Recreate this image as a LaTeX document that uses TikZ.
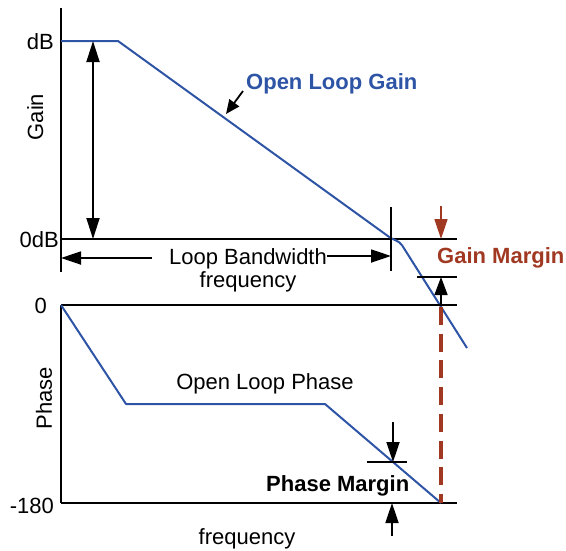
\documentclass[tikz,border=0pt]{standalone}
\usepackage{fontspec}
\setmainfont{Liberation Sans}
\usetikzlibrary{arrows.meta}
\definecolor{curveblue}{RGB}{46,84,166}
\definecolor{marginred}{RGB}{160,56,34}
\begin{document}
\begin{tikzpicture}[x=1pt,y=-1pt,
  axisline/.style={line width=2.4pt},
  refline/.style={line width=2.2pt},
  tickline/.style={line width=1.6pt},
  plotline/.style={curveblue,line width=2pt,line join=round},
  dimarrow/.style={line width=1.8pt,-{Triangle[length=20pt,width=13pt]}},
  twoarrow/.style={line width=1.8pt,{Triangle[length=21pt,width=13pt]}-{Triangle[length=21pt,width=13pt]}},
  lbl/.style={font=\fontsize{22}{26}\selectfont,inner sep=0pt,anchor=base},
  boldlbl/.style={lbl,font=\fontsize{22}{26}\selectfont\bfseries}]
\useasboundingbox (0,0) rectangle (566,550);

% ---------- gain plot ----------
\coordinate (gtop) at (61,8);
\coordinate (gbot) at (61,272);
\coordinate (gdb) at (61,41);
\coordinate (gzero) at (61,239);
\coordinate (gzeroend) at (457,239);
\coordinate (gpole) at (118,41);
\coordinate (gcross) at (392,239);
\coordinate (gknee) at (400,242);
\coordinate (gend) at (467,348);

\draw[axisline] (gtop) -- (gbot);
\draw[refline] (gzero) -- (gzeroend);
\draw[plotline] (gdb) -- (gpole) [rounded corners=4pt] -- (gcross) -- (gknee) -- (gend);

% dc gain span
\coordinate (spantop) at (93,41);
\coordinate (spanbot) at (93,239);
\draw[twoarrow] (spantop) -- (spanbot);

% curve label and pointer
\node[boldlbl,text=curveblue,anchor=base west] (olg) at (246,89) {Open Loop Gain};
\coordinate (olgfrom) at (243,91);
\coordinate (olgto) at (226,114);
\draw[line width=1.8pt,-{Triangle[length=14pt,width=12pt]}] (olgfrom) -- (olgto);

% loop bandwidth
\coordinate (bwtickt) at (391,207);
\coordinate (bwtickb) at (391,271);
\draw[tickline] (bwtickt) -- (bwtickb);
\node[lbl] (bw) at (248,264) {Loop Bandwidth};
\node[lbl] (bwf) at (248,287) {frequency};
\coordinate (bwleft) at (61,258);
\coordinate (bwlstart) at (152,258);
\coordinate (bwrstart) at (327,256);
\coordinate (bwright) at (391,256);
\draw[dimarrow] (bwlstart) -- (bwleft);
\draw[dimarrow] (bwrstart) -- (bwright);

% gain margin
\coordinate (gmtop) at (441,206);
\coordinate (gmtip) at (441,239);
\draw[marginred,line width=1.6pt,-{Triangle[length=20pt,width=13pt]}] (gmtop) -- (gmtip);
\node[boldlbl,text=marginred,anchor=base west] (gm) at (437,263) {Gain Margin};
\coordinate (gmtickl) at (417,277);
\coordinate (gmtickr) at (457,277);
\draw[tickline] (gmtickl) -- (gmtickr);
\coordinate (gmbase) at (441,305);
\coordinate (gmup) at (441,277);
\draw[line width=1.6pt,-{Triangle[length=18pt,width=13pt]}] (gmbase) -- (gmup);

% gain axis labels
\node[lbl,anchor=base east] (ldb) at (54,49) {dB};
\node[lbl,anchor=base east] (l0db) at (59,247) {0dB};
\node[lbl,rotate=90] (lgain) at (43,117) {Gain};

% ---------- phase plot ----------
\coordinate (ptop) at (61,305);
\coordinate (pbot) at (61,503);
\coordinate (ptopend) at (457,305);
\coordinate (pbotend) at (457,503);
\draw[refline] (ptop) -- (ptopend);
\draw[axisline] (ptop) -- (pbot);
\draw[refline] (pbot) -- (pbotend);

\coordinate (pp1) at (126,404);
\coordinate (pp2) at (325,404);
\coordinate (pp3) at (441,503);
\draw[plotline] (ptop) -- (pp1) -- (pp2) -- (pp3);

\node[lbl] (olp) at (265,389) {Open Loop Phase};

% crossover marker
\coordinate (xtop) at (441,307);
\draw[marginred,line width=3.2pt,dash pattern=on 18pt off 8.7pt] (xtop) -- (pp3);

% phase margin
\coordinate (pmtop) at (393,422);
\coordinate (pmtip) at (393,462);
\draw[dimarrow] (pmtop) -- (pmtip);
\coordinate (pmtickl) at (367,462);
\coordinate (pmtickr) at (407,462);
\draw[tickline] (pmtickl) -- (pmtickr);
\coordinate (pmbot) at (392,536);
\coordinate (pmup) at (392,503);
\draw[dimarrow] (pmbot) -- (pmup);
\node[boldlbl,anchor=base west] (pm) at (266,491) {Phase Margin};

% phase axis labels
\node[lbl,anchor=base east] (l0) at (47,313) {0};
\node[lbl,anchor=base east] (l180) at (54,513) {-180};
\node[lbl,rotate=90] (lphase) at (52,398) {Phase};
\node[lbl] (freq) at (247,544) {frequency};
\end{tikzpicture}
\end{document}
